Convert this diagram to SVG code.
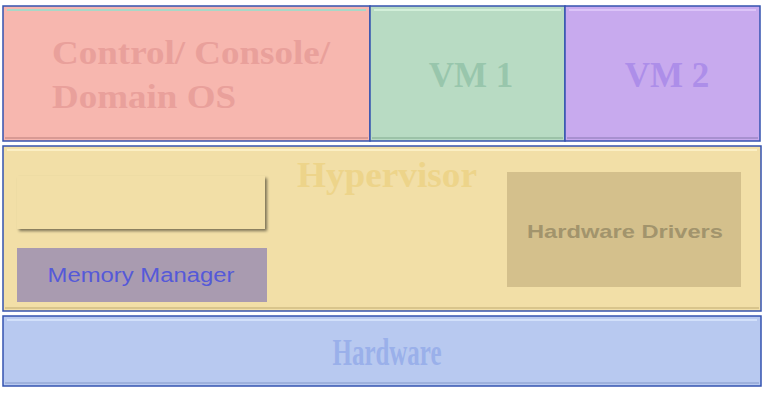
<svg xmlns="http://www.w3.org/2000/svg" width="771" height="402" viewBox="0 0 771 402">
<style>
.big{font-family:"Liberation Serif",serif;font-weight:bold}
.sm{font-family:"Liberation Sans",sans-serif}
.frame{stroke:#3453b0;stroke-width:1.5}
</style>
<defs>
<filter id="sh" x="-5%" y="-10%" width="115%" height="130%"><feGaussianBlur in="SourceAlpha" stdDeviation="1.5"/><feOffset dx="2" dy="2"/><feComponentTransfer><feFuncA type="linear" slope="0.5"/></feComponentTransfer><feMerge><feMergeNode/><feMergeNode in="SourceGraphic"/></feMerge></filter>
</defs>
<rect width="771" height="402" fill="#ffffff"/>
<g id="control">
<rect x="3" y="6" width="367" height="135" fill="#f7b7af" class="frame"/>
<line x1="7" y1="10" x2="366" y2="10" stroke="#a8d8c8" stroke-width="2"/>
<line x1="5" y1="138" x2="368" y2="138" stroke="#d89a94" stroke-width="2"/>
<text class="big" x="52" y="64" font-size="34" fill="#e9a09b" textLength="278" lengthAdjust="spacingAndGlyphs">Control/ Console/</text>
<text class="big" x="52" y="108" font-size="34" fill="#e9a09b" textLength="184" lengthAdjust="spacingAndGlyphs">Domain OS</text>
</g>
<g id="vm1">
<rect x="370" y="6" width="195" height="135" fill="#b8dbc3" class="frame"/>
<line x1="374" y1="10" x2="561" y2="10" stroke="#d2efd9" stroke-width="2"/>
<line x1="372" y1="138" x2="563" y2="138" stroke="#9cc2a8" stroke-width="2"/>
<text class="big" x="471" y="87" font-size="35" fill="#98c6ac" text-anchor="middle">VM 1</text>
</g>
<g id="vm2">
<rect x="565" y="6" width="195" height="135" fill="#c8aaee" class="frame"/>
<line x1="569" y1="10" x2="756" y2="10" stroke="#dcc4f8" stroke-width="2"/>
<line x1="567" y1="138" x2="758" y2="138" stroke="#a890d0" stroke-width="2"/>
<text class="big" x="667" y="87" font-size="35" fill="#ad8ee9" text-anchor="middle">VM 2</text>
</g>
<g id="hypervisor">
<rect x="3" y="146" width="758" height="165" fill="#f2dfa7" class="frame"/>
<line x1="7" y1="150" x2="757" y2="150" stroke="#fbefc4" stroke-width="2"/>
<line x1="5" y1="308" x2="759" y2="308" stroke="#d9c58c" stroke-width="2"/>
<text class="big" x="387" y="187" font-size="35" fill="#edd48a" text-anchor="middle" textLength="180" lengthAdjust="spacingAndGlyphs">Hypervisor</text>
</g>
<g id="blank-box">
<rect x="17" y="176" width="248" height="53" fill="#f2dfa7" filter="url(#sh)"/>
</g>
<g id="memory-manager">
<rect x="17" y="248" width="250" height="54" fill="#a99bb0"/>
<text class="sm" x="141" y="282" font-size="20" fill="#5559d8" text-anchor="middle" textLength="187" lengthAdjust="spacingAndGlyphs">Memory Manager</text>
</g>
<g id="hardware-drivers">
<rect x="507" y="172" width="234" height="115" fill="#d4c08c"/>
<text class="sm" x="625" y="238" font-size="19" font-weight="bold" fill="#a2946c" text-anchor="middle" textLength="196" lengthAdjust="spacingAndGlyphs">Hardware Drivers</text>
</g>
<g id="hardware">
<rect x="3" y="316" width="758" height="70" fill="#b8c9f0" class="frame"/>
<line x1="7" y1="320" x2="757" y2="320" stroke="#d2e0fa" stroke-width="2"/>
<line x1="5" y1="383" x2="759" y2="383" stroke="#9db0dc" stroke-width="2"/>
<text class="big" x="387" y="365" font-size="38" fill="#9ab0ea" text-anchor="middle" textLength="109" lengthAdjust="spacingAndGlyphs">Hardware</text>
</g>
<g id="connectors"/>
</svg>
